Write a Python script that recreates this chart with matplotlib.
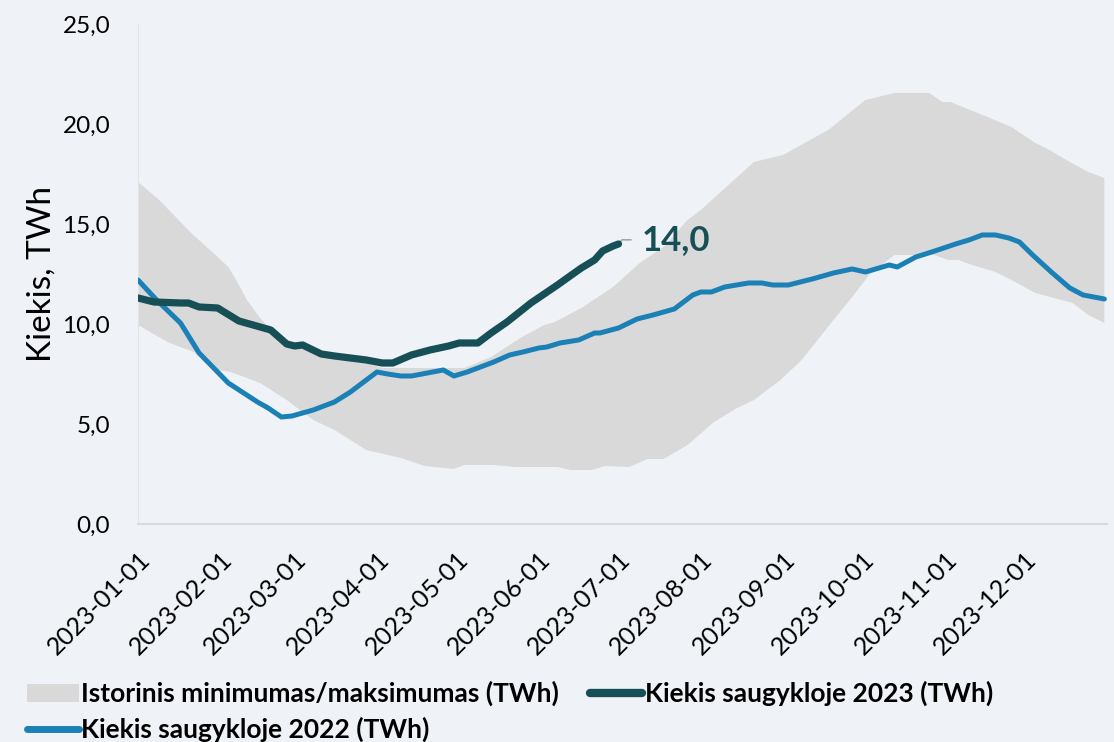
import matplotlib
matplotlib.use("Agg")
import matplotlib.pyplot as plt
import matplotlib.dates as mdates
from matplotlib.lines import Line2D
from matplotlib.patches import Patch
from matplotlib.ticker import FuncFormatter
import pandas as pd

# Historical max (upper edge of the band), month-day in 2023
max_days = ["01-01", "01-09", "01-21", "01-31", "02-04", "02-07", "02-11", "02-16",
            "02-19", "02-24", "02-28", "03-04", "03-11", "03-16", "03-28", "04-03",
            "05-04", "05-14", "05-25", "06-03", "06-07", "06-17", "06-29", "07-09",
            "07-18", "07-27", "08-01", "08-21", "09-01", "09-18", "10-02", "10-13",
            "10-26", "10-31", "11-03", "11-17", "11-26", "12-05", "12-09", "12-18",
            "12-25", "12-31"]
max_values = [17.1, 16.2, 14.55, 13.35, 12.85, 12.2, 11.2, 10.3,
              9.85, 9.3, 8.85, 8.8, 8.4, 8.3, 8.05, 7.8,
              7.8, 8.35, 9.3, 9.95, 10.1, 10.8, 11.85, 13.05,
              13.85, 15.2, 15.7, 18.1, 18.45, 19.7, 21.2, 21.55,
              21.55, 21.1, 21.1, 20.35, 19.85, 19.05, 18.8, 18.1,
              17.6, 17.3]

# Historical min (lower edge of the band)
min_days = ["01-01", "01-12", "01-22", "01-31", "02-05", "02-16", "02-26", "03-08",
            "03-16", "03-28", "04-10", "04-19", "04-30", "05-04", "05-15", "05-23",
            "06-08", "06-13", "06-21", "06-26", "07-05", "07-12", "07-18", "07-27",
            "08-06", "08-14", "08-21", "08-31", "09-08", "09-20", "09-27", "10-04",
            "10-13", "10-28", "11-02", "11-06", "11-10", "11-20", "11-26", "12-05",
            "12-19", "12-25", "12-31"]
min_values = [9.95, 9.1, 8.6, 7.7, 7.6, 7.05, 6.2, 5.2,
              4.7, 3.7, 3.3, 2.9, 2.75, 2.95, 2.95, 2.85,
              2.85, 2.7, 2.7, 2.9, 2.85, 3.25, 3.25, 3.95,
              5.1, 5.75, 6.2, 7.2, 8.2, 10.2, 11.35, 12.55,
              13.45, 13.45, 13.2, 13.2, 13.0, 12.6, 12.2, 11.55,
              11.05, 10.45, 10.05]

# Storage 2023
days_2023 = ["01-01", "01-07", "01-17", "01-20", "01-24", "01-31", "02-08", "02-16",
             "02-20", "02-26", "03-01", "03-04", "03-11", "03-16", "03-28", "04-03",
             "04-07", "04-14", "04-21", "04-28", "05-02", "05-09", "05-14", "05-20",
             "05-29", "06-08", "06-17", "06-22", "06-25", "06-29", "07-01"]
values_2023 = [11.3, 11.1, 11.05, 11.05, 10.85, 10.8, 10.15, 9.85,
               9.7, 9.0, 8.9, 8.95, 8.5, 8.4, 8.2, 8.05,
               8.05, 8.45, 8.7, 8.9, 9.05, 9.05, 9.55, 10.1,
               11.05, 11.95, 12.8, 13.2, 13.65, 13.9, 14.0]

# Storage 2022 (shown on the same calendar)
days_2022 = ["01-01", "01-08", "01-17", "01-24", "02-04", "02-15", "02-19", "02-24",
             "02-28", "03-08", "03-16", "03-22", "03-28", "04-01", "04-05", "04-10",
             "04-14", "04-20", "04-26", "04-30", "05-05", "05-10", "05-15", "05-21",
             "05-26", "06-01", "06-04", "06-09", "06-16", "06-22", "06-24", "07-01",
             "07-08", "07-14", "07-22", "07-29", "08-01", "08-05", "08-10", "08-19",
             "08-24", "08-28", "09-03", "09-12", "09-20", "09-27", "10-02", "10-11",
             "10-14", "10-21", "10-27", "11-05", "11-10", "11-15", "11-20", "11-25",
             "11-29", "12-04", "12-11", "12-18", "12-23", "12-29", "12-31"]
values_2022 = [12.2, 11.2, 10.05, 8.55, 7.05, 6.1, 5.8, 5.35,
               5.4, 5.7, 6.1, 6.6, 7.2, 7.6, 7.5, 7.4,
               7.4, 7.55, 7.7, 7.4, 7.6, 7.85, 8.1, 8.45,
               8.6, 8.8, 8.85, 9.05, 9.2, 9.55, 9.55, 9.8,
               10.25, 10.45, 10.75, 11.45, 11.6, 11.6, 11.85, 12.05,
               12.05, 11.95, 11.95, 12.25, 12.55, 12.75, 12.6, 12.95,
               12.85, 13.35, 13.6, 14.0, 14.2, 14.45, 14.45, 14.3,
               14.1, 13.45, 12.6, 11.8, 11.45, 11.3, 11.25]

BG = "#EFF3F7"
BAND = "#D9D9D9"
DARK = "#174F57"
BLUE = "#1A80B6"


def to_dates(days):
    return pd.to_datetime(["2023-" + d for d in days])


plt.rcParams["font.family"] = ["Lato", "DejaVu Sans"]

fig = plt.figure(figsize=(11.14, 7.42), dpi=100, facecolor=BG)
ax = fig.add_axes([0.1239, 0.2938, 0.8698, 0.6739])
ax.set_facecolor(BG)

# band as a polygon: upper edge forward, lower edge back
band_x = list(to_dates(max_days)) + list(to_dates(min_days))[::-1]
band_y = max_values + min_values[::-1]
ax.fill(band_x, band_y, color=BAND, lw=0, zorder=1)

ax.plot(to_dates(days_2022), values_2022, color=BLUE, lw=3.6,
        solid_capstyle="round", solid_joinstyle="round", zorder=3)
ax.plot(to_dates(days_2023), values_2023, color=DARK, lw=5.2,
        solid_capstyle="round", solid_joinstyle="round", zorder=4)

last_x = to_dates(days_2023)[-1]
ax.annotate(f"{values_2023[-1]:.1f}".replace(".", ","), xy=(last_x, values_2023[-1]),
            xytext=(17, 3), textcoords="offset points", ha="left", va="center",
            fontsize=25, fontweight="bold", color=DARK,
            arrowprops=dict(arrowstyle="-", color="#A6A6A6", lw=1.2,
                            shrinkA=6, shrinkB=2, relpos=(0, 0.5),
                            connectionstyle="angle,angleA=0,angleB=50,rad=0"))

ax.set_ylim(0, 25)
ax.set_yticks([0, 5, 10, 15, 20, 25])
ax.yaxis.set_major_formatter(FuncFormatter(lambda v, p: f"{v:.1f}".replace(".", ",")))
ax.set_xlim(pd.Timestamp("2023-01-01"), pd.Timestamp("2024-01-01"))
ax.set_xticks(pd.date_range("2023-01-01", "2023-12-01", freq="MS"))
ax.xaxis.set_major_formatter(mdates.DateFormatter("%Y-%m-%d"))

ax.tick_params(axis="y", length=0, pad=20, labelsize=17.5)
ax.tick_params(axis="x", length=0, pad=17, labelsize=18)
for lab in ax.get_xticklabels():
    lab.set_rotation(45)
    lab.set_ha("right")
    lab.set_rotation_mode("anchor")

ax.set_ylabel("Kiekis, TWh", fontsize=24, labelpad=4)

for side in ["top", "right"]:
    ax.spines[side].set_visible(False)
ax.spines["left"].set_color("#E2E5E8")
ax.spines["left"].set_linewidth(0.8)
ax.spines["bottom"].set_color("#D9D9D9")
ax.spines["bottom"].set_linewidth(1.5)

handles = [Patch(facecolor=BAND, edgecolor="none"),
           Line2D([], [], color=BLUE, lw=5, solid_capstyle="round"),
           Line2D([], [], color=DARK, lw=6, solid_capstyle="round")]
labels = ["Istorinis minimumas/maksimumas (TWh)",
          "Kiekis saugykloje 2022 (TWh)",
          "Kiekis saugykloje 2023 (TWh)"]
leg = fig.legend(handles, labels, loc="upper left", bbox_to_anchor=(0.012, 0.1),
                 ncol=2, frameon=False, borderpad=0, handlelength=2.0,
                 handletextpad=0.08, columnspacing=1.15, labelspacing=0.4,
                 prop={"weight": "bold", "size": 19})

fig.savefig("out.png", dpi=100, facecolor=BG)
